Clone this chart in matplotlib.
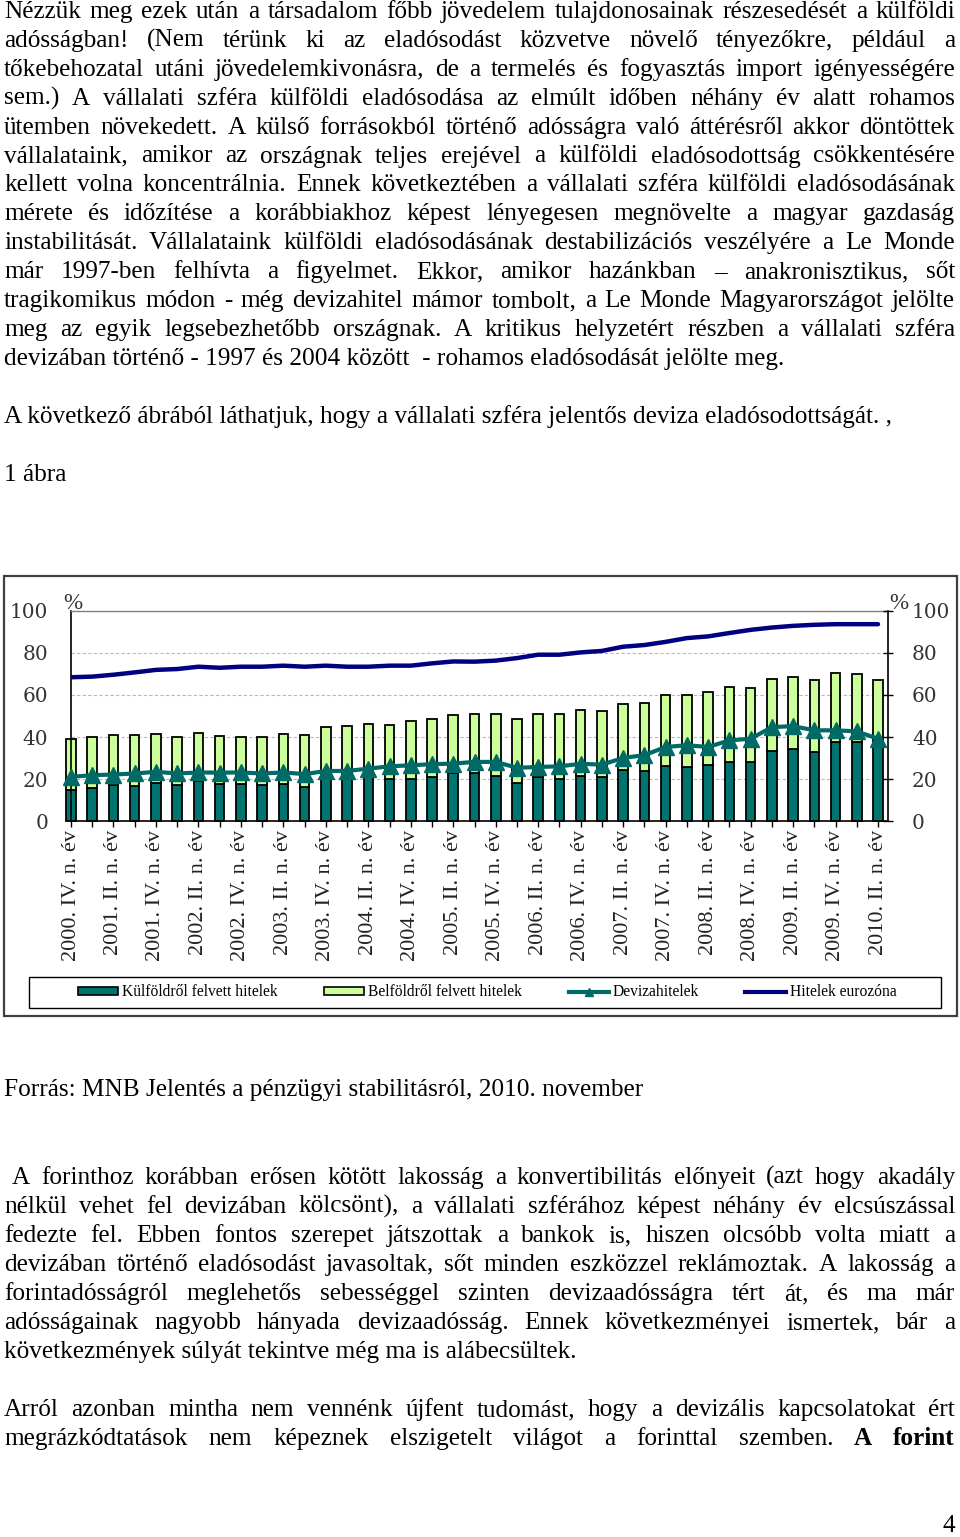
import matplotlib
matplotlib.use("Agg")
import matplotlib.pyplot as plt
from matplotlib.patches import Rectangle, Patch
from matplotlib.lines import Line2D
from matplotlib.font_manager import FontProperties
import numpy as np

# ---------------- data ----------------
tick_labels = ["2000. IV. n. év", "2001. II. n. év", "2001. IV. n. év", "2002. II. n. év",
               "2002. IV. n. év", "2003. II. n. év", "2003. IV. n. év", "2004. II. n. év",
               "2004. IV. n. év", "2005. II. n. év", "2005. IV. n. év", "2006. II. n. év",
               "2006. IV. n. év", "2007. II. n. év", "2007. IV. n. év", "2008. II. n. év",
               "2008. IV. n. év", "2009. II. n. év", "2009. IV. n. év", "2010. II. n. év"]
n_quarters = 39

kulfoldi = [14.8, 15.9, 17.2, 16.7, 18.4, 17.2, 19.1, 17.6, 17.6, 17.2, 17.6, 16.4, 20.0,
            20.0, 21.1, 20.3, 20.3, 21.0, 22.7, 22.7, 21.4, 18.4, 21.1, 20.3, 21.4, 21.0,
            24.3, 23.8, 26.1, 25.7, 26.6, 28.2, 28.2, 33.2, 34.5, 32.9, 37.6, 37.6, 36.1]
belfoldi = [24.4, 24.0, 23.6, 24.1, 23.0, 22.7, 22.8, 22.7, 22.3, 22.7, 23.8, 24.4, 24.7,
            25.2, 25.1, 25.4, 27.3, 27.5, 27.7, 28.2, 29.5, 30.1, 29.8, 30.6, 31.4, 31.3,
            31.3, 32.3, 33.9, 34.3, 34.7, 35.5, 35.0, 34.4, 34.1, 34.2, 32.8, 32.3, 31.0]
deviza = [21.1, 21.9, 22.2, 22.7, 23.5, 22.7, 23.2, 23.1, 23.2, 22.7, 23.2, 22.4, 23.9,
          23.9, 25.0, 26.1, 26.6, 27.1, 27.4, 28.2, 28.2, 25.4, 25.8, 26.1, 27.3, 26.9,
          30.1, 31.4, 35.3, 36.1, 35.3, 38.4, 39.2, 44.7, 45.2, 43.2, 43.2, 42.7, 39.2]
euro = [68.4, 68.7, 69.6, 70.7, 71.9, 72.3, 73.4, 72.9, 73.4, 73.4, 73.9, 73.4, 73.9,
        73.4, 73.4, 73.9, 73.9, 75.0, 75.9, 75.8, 76.3, 77.5, 79.1, 79.1, 80.2, 80.9,
        82.9, 83.7, 85.2, 87.0, 87.8, 89.4, 90.9, 92.0, 92.8, 93.3, 93.6, 93.6, 93.6]
series_names = ["Külföldről felvett hitelek", "Belföldről felvett hitelek",
                "Devizahitelek", "Hitelek eurozóna"]
y_ticks = [0, 20, 40, 60, 80, 100]

para1 = [
    "Nézzük meg ezek után a társadalom főbb jövedelem tulajdonosainak részesedését a külföldi",
    "adósságban! (Nem térünk ki az eladósodást közvetve növelő tényezőkre, például a",
    "tőkebehozatal utáni jövedelemkivonásra, de a termelés és fogyasztás import igényességére",
    "sem.) A vállalati szféra külföldi eladósodása az elmúlt időben néhány év alatt rohamos",
    "ütemben növekedett. A külső forrásokból történő adósságra való áttérésről akkor döntöttek",
    "vállalataink, amikor az országnak teljes erejével a külföldi eladósodottság csökkentésére",
    "kellett volna koncentrálnia. Ennek következtében a vállalati szféra külföldi eladósodásának",
    "mérete és időzítése a korábbiakhoz képest lényegesen megnövelte a magyar gazdaság",
    "instabilitását. Vállalataink külföldi eladósodásának destabilizációs veszélyére a Le Monde",
    "már 1997-ben felhívta a figyelmet. Ekkor, amikor hazánkban – anakronisztikus, sőt",
    "tragikomikus módon - még devizahitel mámor tombolt, a Le Monde Magyarországot jelölte",
    "meg az egyik legsebezhetőbb országnak. A kritikus helyzetért részben a vállalati szféra",
    "devizában történő - 1997 és 2004 között  - rohamos eladósodását jelölte meg.",
]
line_after = "A következő ábrából láthatjuk, hogy a vállalati szféra jelentős deviza eladósodottságát. ,"
fig_caption = "1 ábra"
source = "Forrás: MNB Jelentés a pénzügyi stabilitásról, 2010. november"
para3 = [
    "A forinthoz korábban erősen kötött lakosság a konvertibilitás előnyeit (azt hogy akadály",
    "nélkül vehet fel devizában kölcsönt), a vállalati szférához képest néhány év elcsúszással",
    "fedezte fel. Ebben fontos szerepet játszottak a bankok is, hiszen olcsóbb volta miatt a",
    "devizában történő eladósodást javasoltak, sőt minden eszközzel reklámoztak. A lakosság a",
    "forintadósságról meglehetős sebességgel szinten devizaadósságra tért át, és ma már",
    "adósságainak nagyobb hányada devizaadósság. Ennek következményei ismertek, bár a",
    "következmények súlyát tekintve még ma is alábecsültek.",
]
para4 = [
    "Arról azonban mintha nem vennénk újfent tudomást, hogy a devizális kapcsolatokat ért",
    "megrázkódtatások nem képeznek elszigetelt világot a forinttal szemben. **A **forint",
]
page_no = "4"

# ---------------- figure ----------------
W, H, DPI = 960, 1537, 100
fig = plt.figure(figsize=(W / DPI, H / DPI), dpi=DPI)
fig.patch.set_facecolor("white")
renderer = fig.canvas.get_renderer()


def fx(px):
    return px / W


def fy(py):
    return 1 - py / H


def pt(px):
    return px * 72 / DPI


SERIF = "Liberation Serif"
BODY = pt(25.2)
fp_reg = FontProperties(family=SERIF, size=BODY)
fp_bold = FontProperties(family=SERIF, size=BODY, weight="bold")


def width(s, fp):
    w, h, d = renderer.get_text_width_height_descent(s, fp, ismath=False)
    return w


def plain(s, x, y, fp=fp_reg, ha="left"):
    fig.text(fx(x), fy(y), s, fontproperties=fp, ha=ha, va="baseline", color="black")


def justified(s, y, x0=4, x1=955):
    toks = []
    for w in s.split():
        if w.startswith("**"):
            toks.append((w[2:], fp_bold))
        else:
            toks.append((w, fp_reg))
    widths = [width(t, f) for t, f in toks]
    gap = (x1 - x0 - sum(widths)) / (len(toks) - 1)
    x = x0
    for (t, f), wd in zip(toks, widths):
        fig.text(fx(x), fy(y), t, fontproperties=f, ha="left", va="baseline", color="black")
        x += wd + gap


def paragraph(lines, y0, step=28.9, x0_first=4):
    for i, ln in enumerate(lines):
        y = y0 + i * step
        x0 = x0_first if i == 0 else 4
        if i == len(lines) - 1 and "**" not in ln:
            plain(ln, x0, y)
        else:
            justified(ln, y, x0=x0)


paragraph(para1, 18)
plain(line_after, 4, 423)
plain(fig_caption, 4, 481)
plain(source, 4, 1096)
paragraph(para3, 1184, step=29.0, x0_first=12)
# last line of para4 is justified (continues on next page)
justified(para4[0], 1416)
justified(para4[1], 1445)
plain(page_no, 955, 1532, ha="right")

# ---------------- chart ----------------
fig.patches.append(Rectangle((fx(4), fy(1016)), fx(957) - fx(4), (1016 - 576) / H,
                             transform=fig.transFigure, fill=False,
                             edgecolor="#404040", linewidth=1.6, zorder=0))

TEAL = "#00756F"
GREEN = "#CCFF99"
LINE_TEAL = "#006B66"
NAVY = "#000080"

y_top, y_zero = 610.7, 821.3
ax = fig.add_axes([fx(71), fy(y_zero), fx(888) - fx(71), (y_zero - y_top) / H])
x = np.arange(n_quarters)
ax.bar(x, kulfoldi, width=0.45, color=TEAL, edgecolor="black", linewidth=1.3,
       zorder=2, clip_on=False)
ax.bar(x, belfoldi, bottom=kulfoldi, width=0.45, color=GREEN, edgecolor="black",
       linewidth=1.3, zorder=2, clip_on=False)
ax.plot(x, euro, color=NAVY, linewidth=3.2, zorder=3, solid_capstyle="round")
ax.plot(x, deviza, color=LINE_TEAL, linewidth=3.0, marker="^", markersize=11,
        zorder=4, clip_on=False)

ax.set_xlim(0.047, 38.47)
ax.set_ylim(0, 100)
ax.set_yticks(y_ticks)
ax.yaxis.grid(True, color="#b8b8b8", linestyle=(0, (3, 2)), linewidth=0.8, zorder=0)
ax.set_axisbelow(True)
fp_tick = FontProperties(family="DejaVu Serif", size=pt(20))
ax.set_yticklabels([str(v) for v in y_ticks], fontproperties=fp_tick, color="#333333")
ax.tick_params(axis="y", length=0, pad=pt(23))

ax.set_xticks(x)
labels_full = []
for i in range(n_quarters):
    labels_full.append(tick_labels[i // 2] if i % 2 == 0 else "")
fp_x = FontProperties(family=SERIF, size=pt(22.3))
ax.set_xticklabels(labels_full, rotation=90, fontproperties=fp_x, color="#222222")
ax.tick_params(axis="x", direction="inout", length=pt(11), width=1.0, pad=pt(3))

for side in ["left", "bottom"]:
    ax.spines[side].set_color("black")
    ax.spines[side].set_linewidth(1.2)
ax.spines["top"].set_color("#808080")
ax.spines["top"].set_linewidth(1.0)
ax.spines["right"].set_visible(False)

ax2 = ax.twinx()
ax2.set_ylim(0, 100)
ax2.set_yticks(y_ticks)
ax2.set_yticklabels([str(v) for v in y_ticks], fontproperties=fp_tick, color="#333333")
ax2.tick_params(axis="y", direction="inout", length=pt(10), width=1.0, pad=pt(19))
for side in ["left", "top", "bottom"]:
    ax2.spines[side].set_visible(False)
ax2.spines["right"].set_color("black")
ax2.spines["right"].set_linewidth(1.2)

fp_pct = FontProperties(family=SERIF, size=pt(23))
fig.text(fx(63), fy(609), "%", fontproperties=fp_pct, ha="left", va="baseline", color="#333333")
fig.text(fx(889), fy(609), "%", fontproperties=fp_pct, ha="left", va="baseline", color="#333333")

handles = [
    Patch(facecolor=TEAL, edgecolor="black", linewidth=1.2),
    Patch(facecolor=GREEN, edgecolor="black", linewidth=1.2),
    Line2D([], [], color=LINE_TEAL, linewidth=3, marker="^", markersize=6),
    Line2D([], [], color=NAVY, linewidth=3),
]
fp_leg = FontProperties(family=SERIF, size=pt(15.5))
fig.legend(handles, series_names, loc="center", bbox_to_anchor=(fx(487), fy(992.5)),
           ncol=4, frameon=False, prop=fp_leg, handlelength=2.6, handleheight=0.5,
           handletextpad=0.25, columnspacing=3.0, borderpad=0.2)
fig.patches.append(Rectangle((fx(29), fy(1008)), fx(941) - fx(29), (1008 - 977) / H,
                             transform=fig.transFigure, fill=False,
                             edgecolor="black", linewidth=1.0))

fig.savefig("out.png", dpi=DPI, facecolor="white")
